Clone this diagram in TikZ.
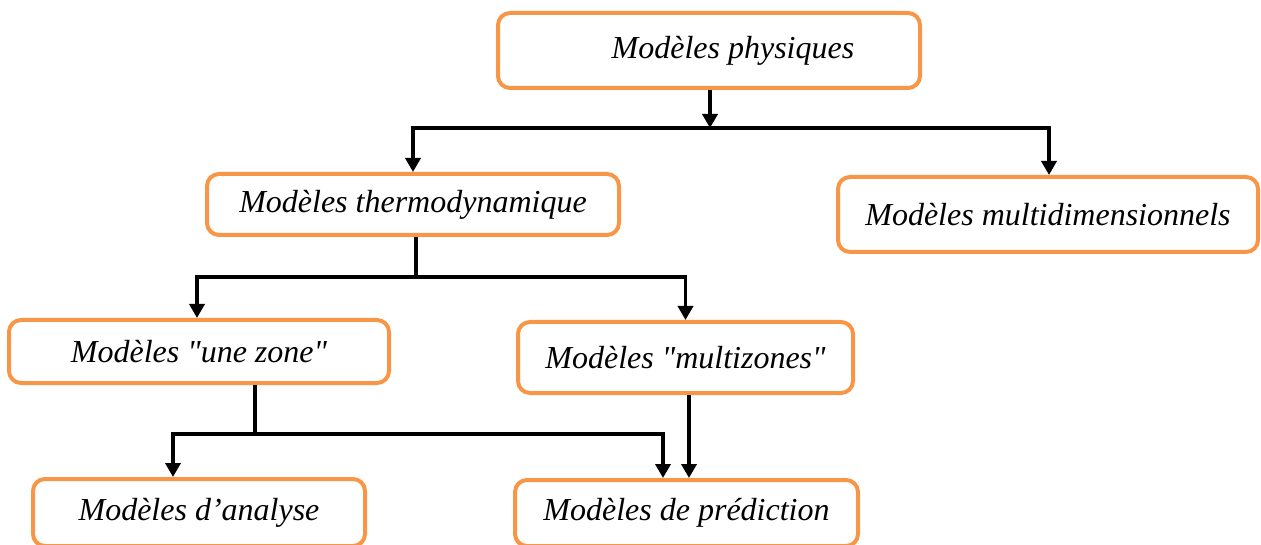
\documentclass[tikz,border=0pt]{standalone}
\usepackage{fontspec}
\setmainfont{Liberation Serif}[Ligatures=TeXOff]
\usetikzlibrary{arrows.meta,positioning,calc}
\definecolor{boxorange}{RGB}{247,150,70}

\tikzset{
  modbox/.style={draw=boxorange, line width=4pt, rounded corners=12pt, inner sep=0pt,
    font=\itshape\fontsize{32}{38}\selectfont},
  bar/.style={line width=3.5pt, line join=miter},
  arr/.style={bar, -{Triangle[width=15pt,length=14pt]}}
}

\begin{document}
\begin{tikzpicture}[x=1pt,y=-1pt]
\path[use as bounding box, clip] (0,0) rectangle (1261,545);

%Shape: boxes
\node[modbox, minimum width=422, minimum height=75] (phys) at (709,50.5) {\hspace*{48pt}Modèles physiques};
\node[modbox, minimum width=412, minimum height=61] (thermo) at (413,204.5) {Modèles thermodynamique};
\node[modbox, minimum width=420, minimum height=75] (multi) at (1048,214.5) {Modèles multidimensionnels};
\node[modbox, minimum width=380, minimum height=63] (une) at (199,351.5) {Modèles "une zone"};
\node[modbox, minimum width=335, minimum height=71] (multiz) at (685.5,357.5) {Modèles "multizones"};
\node[modbox, minimum width=332, minimum height=67] (analyse) at (199,512.5) {Modèles d’analyse};
\node[modbox, minimum width=343, minimum height=66] (pred) at (686.5,513) {Modèles de prédiction};

%Straight Lines: junctions
\coordinate (j1) at (710,128);
\coordinate (j2) at (416,277);
\coordinate (j3) at (255,434);

%Connectors: level 1
\draw[arr] (phys.south -| j1) -- (j1);
\draw[arr] (j1) -| (thermo.north);
\draw[arr] (j1) -| ([xshift=1pt]multi.north);

%Connectors: level 2
\draw[bar] (thermo.south -| j2) -- (j2);
\draw[arr] (j2) -| ([xshift=-2pt]une.north);
\draw[arr] (j2) -| (multiz.north);

%Connectors: level 3
\draw[bar] (une.south -| j3) -- (j3);
\draw[arr] (j3) -| ([xshift=-26pt]analyse.north);
\draw[arr] (j3) -| ([xshift=-23.5pt]pred.north);
\draw[arr] ([xshift=3.5pt]multiz.south) -- ([xshift=2.5pt]pred.north);

\end{tikzpicture}
\end{document}
